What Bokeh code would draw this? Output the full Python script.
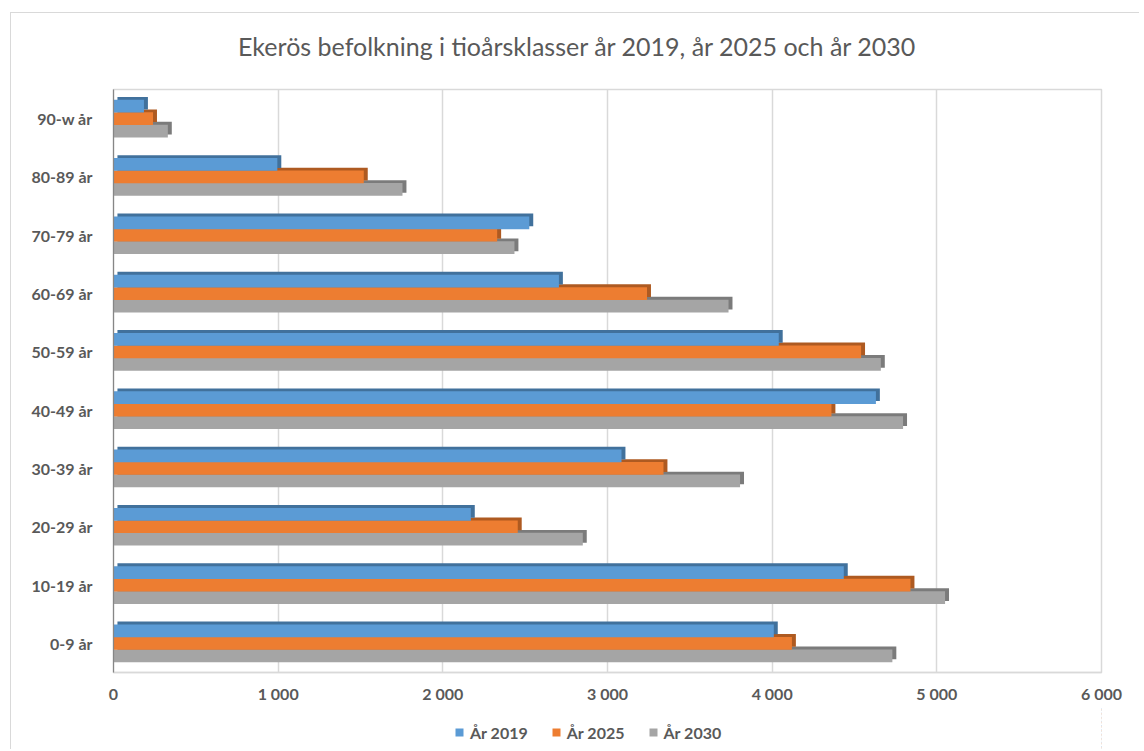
from bokeh.plotting import figure
from bokeh.models import (ColumnDataSource, FactorRange, Range1d, FixedTicker,
                          Legend, LegendItem, Label)
from bokeh.layouts import column
from bokeh.transform import dodge
from bokeh.embed import file_html
from bokeh.resources import INLINE

# ---------------- data ----------------
categories = ["0-9 år", "10-19 år", "20-29 år", "30-39 år", "40-49 år",
              "50-59 år", "60-69 år", "70-79 år", "80-89 år", "90-w år"]
ar_2019 = [4010, 4435, 2170, 3085, 4630, 4040, 2705, 2525, 995, 185]
ar_2025 = [4120, 4840, 2455, 3340, 4360, 4540, 3240, 2330, 1520, 240]
ar_2030 = [4730, 5050, 2850, 3805, 4795, 4660, 3735, 2435, 1755, 330]
series_names = ["År 2019", "År 2025", "År 2030"]
tick_values = [0, 1000, 2000, 3000, 4000, 5000, 6000]
tick_labels = ["0", "1 000", "2 000", "3 000", "4 000", "5 000", "6 000"]
title_text = "Ekerös befolkning i tioårsklasser år 2019, år 2025 och år 2030"

# ---------------- styles ----------------
front_colors = ["#5B9BD5", "#ED7D31", "#A5A5A5"]
side_colors = ["#41719C", "#AE5A21", "#7B7B7B"]
offsets = [0.214, 0.0, -0.214]
bar_h = 0.218
depth_x = 24      # data units (~4 px)
depth_y = 0.05    # category units (~3 px)
FONT = "Lato"
TXT = "#595959"
W = 1128
HEAD_H, MAIN_H, FOOT_H = 74, 620, 42

src = ColumnDataSource(dict(cat=categories, v0=ar_2019, v1=ar_2025, v2=ar_2030,
                            s0=[v + depth_x for v in ar_2019],
                            s1=[v + depth_x for v in ar_2025],
                            s2=[v + depth_x for v in ar_2030]))


def bare(height, x_range, y_range):
    f = figure(width=W, height=height, output_backend="svg", toolbar_location=None,
               x_range=x_range, y_range=y_range, min_border=0,
               x_axis_location=None, y_axis_location=None)
    f.outline_line_color = None
    f.grid.visible = False
    return f


# ---------------- header with the title ----------------
head = bare(HEAD_H, Range1d(0, W), Range1d(0, HEAD_H))
head.add_layout(Label(x=530, y=42, text=title_text, text_align="center",
                      text_baseline="middle", text_font=FONT,
                      text_font_size="25px", text_color=TXT))

# ---------------- main chart ----------------
p = figure(width=W, height=MAIN_H, output_backend="svg", toolbar_location=None,
           y_range=FactorRange(factors=categories), x_range=Range1d(0, 6000),
           min_border_left=102, min_border_right=38, min_border_top=2,
           min_border_bottom=35)
p.y_range.range_padding = 0
p.outline_line_color = "#D9D9D9"
p.outline_line_width = 1.5
p.background_fill_color = "white"

# bars: draw bottom series first so higher series cover its 3D top face
for i in [2, 1, 0]:
    p.hbar(y=dodge("cat", offsets[i] + depth_y, range=p.y_range), left=depth_x,
           right="s%d" % i, height=bar_h, source=src,
           fill_color=side_colors[i], line_color=None)
    p.hbar(y=dodge("cat", offsets[i], range=p.y_range), left=0,
           right="v%d" % i, height=bar_h, source=src,
           fill_color=front_colors[i], line_color=None)

ticker = FixedTicker(ticks=tick_values)
p.xaxis.ticker = ticker
p.xaxis.major_label_overrides = {v: l for v, l in zip(tick_values, tick_labels)}
p.xgrid.ticker = ticker
p.xgrid.grid_line_color = "#D9D9D9"
p.xgrid.grid_line_width = 1.5
p.ygrid.grid_line_color = None

for ax in (p.xaxis[0], p.yaxis[0]):
    ax.major_tick_line_color = None
    ax.minor_tick_line_color = None
    ax.major_tick_out = 0
    ax.major_tick_in = 0
    ax.major_label_text_font = FONT
    ax.major_label_text_font_style = "bold"
    ax.major_label_text_color = TXT
    ax.major_label_text_font_size = "16px"

p.xaxis.axis_line_color = "#D9D9D9"
p.xaxis.axis_line_width = 1.5
p.xaxis.major_label_standoff = 11
p.yaxis.axis_line_color = "#868686"
p.yaxis.axis_line_width = 1.2
p.yaxis.major_label_standoff = 21

# ---------------- footer with the legend ----------------
foot = bare(FOOT_H, Range1d(-2, -1), FactorRange(factors=categories))
legend_renderers = []
for i in range(3):
    r = foot.hbar(y=dodge("cat", offsets[i], range=foot.y_range), left=0,
                  right="v%d" % i, height=bar_h, source=src,
                  fill_color=front_colors[i], line_color=None)
    legend_renderers.append(r)

legend = Legend(items=[LegendItem(label=series_names[i], renderers=[legend_renderers[i]])
                       for i in range(3)],
                orientation="horizontal", location=(341, 7),
                glyph_width=10, glyph_height=10, label_standoff=6, spacing=23,
                label_height=20, padding=0, margin=0, border_line_color=None,
                background_fill_alpha=0,
                label_text_font=FONT, label_text_font_style="bold",
                label_text_font_size="16px", label_text_color=TXT)
foot.add_layout(legend, "center")

root = column(head, p, foot, spacing=0)
root.margin = (12, 0, 0, 10)
root.styles = {"border-left": "1px solid #D9D9D9", "border-top": "1px solid #D9D9D9"}

open("out.html", "w").write(file_html(root, INLINE))
